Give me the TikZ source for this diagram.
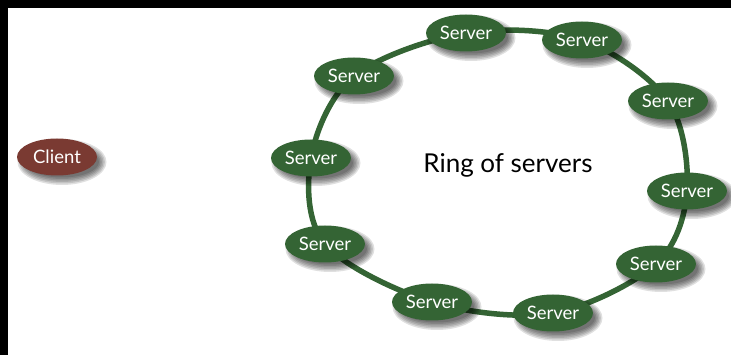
\documentclass[tikz,border=0pt]{standalone}
\usepackage{fontspec}
\setmainfont{Lato}
\usetikzlibrary{shapes.geometric,backgrounds}
\definecolor{ringgreen}{RGB}{52,100,52}
\definecolor{clientbrown}{RGB}{122,58,50}
\begin{document}
\begin{tikzpicture}[x=1pt,y=-1pt,
  host/.style={ellipse, minimum width=80pt, minimum height=37pt, inner sep=0pt,
    text=white, font=\fontsize{18.5}{20}\selectfont},
  server/.style={host, fill=ringgreen},
  clientnode/.style={host, fill=clientbrown},
  ringline/.style={draw=ringgreen, line width=5.5pt},
  softshade/.style={fill=black, fill opacity=0.12}]

\useasboundingbox (0,0) rectangle (731,355);

\node[clientnode] (client) at (57,157) {Client};

\node[server] (s1)  at (466,33)  {Server};
\node[server] (s2)  at (582,40)  {Server};
\node[server] (s3)  at (668,101) {Server};
\node[server] (s4)  at (687,191) {Server};
\node[server] (s5)  at (656,264) {Server};
\node[server] (s6)  at (553,313) {Server};
\node[server] (s7)  at (432,302) {Server};
\node[server] (s8)  at (325,244) {Server};
\node[server] (s9)  at (311,158) {Server};
\node[server] (s10) at (354,76)  {Server};

\node[font=\fontsize{26}{30}\selectfont] (label) at (508,165) {Ring of servers};

\begin{scope}[on background layer]
  % page: white sheet with a black band along the top and the left
  \fill[white] (0,0) rectangle (731,355);
  \fill[black] (0,0) rectangle (731,8);
  \fill[black] (0,0) rectangle (8,355);
  % the ring joining the servers
  \draw[ringline] plot[smooth cycle, tension=0.55] coordinates
    {(s1) (s2) (s3) (s4) (s5) (s6) (s7) (s8) (s9) (s10)};
  % soft drop shadows, offset down and to the right
  \foreach \n in {client,s1,s2,s3,s4,s5,s6,s7,s8,s9,s10}
    \foreach \k in {-3,-1.5,0,1.5,3,4.5}
      \fill[softshade] ([xshift=5pt,yshift=-5pt]\n.center)
        ellipse [x radius=40pt+\k pt, y radius=18.5pt+\k pt];
\end{scope}
\end{tikzpicture}
\end{document}
